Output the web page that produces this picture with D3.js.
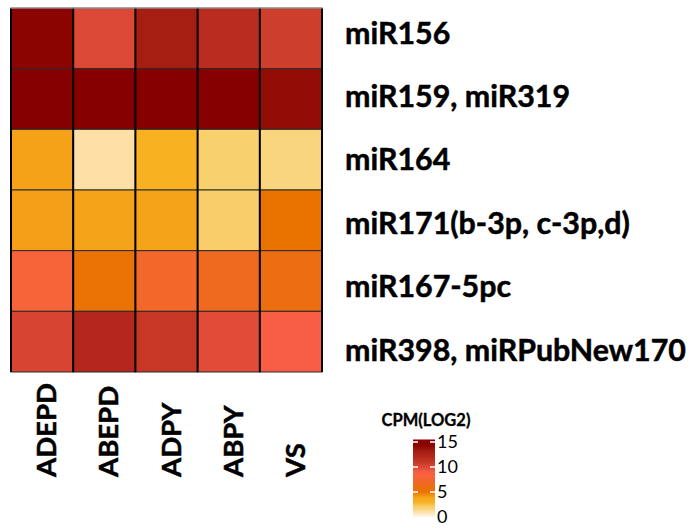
<!DOCTYPE html>
<html>
<head>
<meta charset="utf-8">
<script src="https://cdn.jsdelivr.net/npm/d3@7"></script>
<style>
  html, body { margin: 0; padding: 0; background: #fff; }
  svg { display: block; }
  text { font-family: Lato, "Open Sans", sans-serif; }
</style>
</head>
<body>
<svg id="chart" width="694" height="529"></svg>
<script>
// Samples (columns) and miRNA families (rows)
const samples = ["ADEPD", "ABEPD", "ADPY", "ABPY", "VS"];
const mirnas = [
  "miR156",
  "miR159, miR319",
  "miR164",
  "miR171(b-3p, c-3p,d)",
  "miR167-5pc",
  "miR398, miRPubNew170"
];

// Expression, CPM (log2), one array per row, in sample order
const miR156  = [14.4, 10.0, 13.0, 11.7, 10.6];
const miR159  = [14.8, 14.9, 14.9, 14.9, 14.0];
const miR164  = [4.0, 1.0, 3.0, 2.0, 1.6];
const miR171  = [4.1, 3.95, 3.9, 2.05, 5.0];
const miR167  = [8.0, 5.2, 7.2, 6.5, 5.8];
const miR398  = [10.2, 12.0, 11.0, 9.8, 9.0];
const rowValues = [miR156, miR159, miR164, miR171, miR167, miR398];

// Colour bar
const legendTitle = "CPM(LOG2)";
const legendTicks = [0, 5, 10, 15];

const cells = [];
mirnas.forEach((m, i) => samples.forEach((s, j) => cells.push({ row: m, col: s, value: rowValues[i][j] })));

const svg = d3.select("#chart");

// Heat palette: cream -> yellow -> orange -> coral -> dark red
const color = d3.scaleLinear()
  .domain([0, 1, 1.6, 2, 3, 4, 5, 6.5, 8, 9, 10, 11, 12, 13, 14, 14.6])
  .range(["#fff8ec", "#fee0a6", "#f9d57e", "#f9d06e", "#f8b120", "#f5a218", "#ea7300",
          "#ef6a1e", "#f7643a", "#f75e45", "#db4835", "#c63726", "#b5271e", "#a61e12",
          "#920c06", "#870000"])
  .clamp(true);

const x = d3.scaleBand().domain(samples).range([11, 322]);
const y = d3.scaleBand().domain(mirnas).range([8, 372]);

// Cells
svg.append("g")
  .selectAll("rect")
  .data(cells)
  .join("rect")
  .attr("x", d => x(d.col))
  .attr("y", d => y(d.row))
  .attr("width", x.bandwidth())
  .attr("height", y.bandwidth())
  .attr("fill", d => color(d.value))
  .attr("stroke", "#2a2a2a")
  .attr("stroke-width", 1);

// Heavier column separators and outer frame
const grid = svg.append("g");
grid.selectAll("line")
  .data(samples.slice(1))
  .join("line")
  .attr("x1", d => x(d)).attr("x2", d => x(d))
  .attr("y1", 8).attr("y2", 372)
  .attr("stroke", "#000").attr("stroke-width", 2);
grid.append("line")
  .attr("x1", 11).attr("x2", 11).attr("y1", 8).attr("y2", 372)
  .attr("stroke", "#000").attr("stroke-width", 2);
grid.append("line")
  .attr("x1", 322).attr("x2", 322).attr("y1", 8).attr("y2", 372)
  .attr("stroke", "#000").attr("stroke-width", 2);
grid.append("line")
  .attr("x1", 10).attr("x2", 323).attr("y1", 8).attr("y2", 8)
  .attr("stroke", "#bbb").attr("stroke-width", 1);

// Row labels on the right
const labelY = d3.scalePoint().domain(mirnas).range([33, 350]);
const rowLabels = svg.append("g")
  .selectAll("text")
  .data(mirnas)
  .join("text")
  .attr("x", 345)
  .attr("y", d => labelY(d))
  .attr("dy", "0.35em")
  .attr("font-weight", 700)
  .attr("font-size", 26)
  .attr("fill", "#000")
  .attr("stroke", "#000")
  .attr("stroke-width", 0.5)
  .text(d => d);

// size the row labels so the longest spans the right margin
const longest = d3.max(rowLabels.nodes(), n => n.getComputedTextLength());
const rowFont = 26 * 341 / longest;
rowLabels.attr("font-size", rowFont);

// Column labels, rotated, reading bottom-to-top
const colLabels = svg.append("g")
  .selectAll("text")
  .data(samples)
  .join("text")
  .attr("transform", d => `translate(${x(d) + x.bandwidth() / 2 + 14},477) rotate(-90)`)
  .attr("text-anchor", "start")
  .attr("font-weight", 700)
  .attr("font-size", 26)
  .attr("fill", "#000")
  .attr("stroke", "#000")
  .attr("stroke-width", 0.5)
  .text(d => d);
const firstLen = colLabels.node().getComputedTextLength();
colLabels.attr("font-size", 26 * 94 / firstLen);

// Colour bar legend
const legY = d3.scaleLinear().domain([0, 15]).range([517, 442]);
const barX = 413, barW = 22;
const gradId = "cpm-grad";
const grad = svg.append("defs").append("linearGradient")
  .attr("id", gradId)
  .attr("x1", 0).attr("x2", 0).attr("y1", 1).attr("y2", 0);
const stops = d3.range(0, 15.51, 0.25);
grad.selectAll("stop")
  .data(stops)
  .join("stop")
  .attr("offset", d => d / 15.5)
  .attr("stop-color", d => color(d));

const leg = svg.append("g");
leg.append("rect")
  .attr("x", barX).attr("y", legY(15.5))
  .attr("width", barW).attr("height", legY(0) - legY(15.5))
  .attr("fill", `url(#${gradId})`);

leg.selectAll("line.tl")
  .data(legendTicks.filter(t => t > 0))
  .join("line")
  .attr("class", "tl")
  .attr("x1", barX).attr("x2", barX + 5)
  .attr("y1", d => legY(d)).attr("y2", d => legY(d))
  .attr("stroke", "#fff").attr("stroke-width", 1.5);
leg.selectAll("line.tr")
  .data(legendTicks.filter(t => t > 0))
  .join("line")
  .attr("class", "tr")
  .attr("x1", barX + barW - 5).attr("x2", barX + barW)
  .attr("y1", d => legY(d)).attr("y2", d => legY(d))
  .attr("stroke", "#fff").attr("stroke-width", 1.5);

leg.selectAll("text.tick")
  .data(legendTicks)
  .join("text")
  .attr("class", "tick")
  .attr("x", barX + barW + 2)
  .attr("y", d => legY(d))
  .attr("dy", "0.36em")
  .attr("font-size", 18)
  .attr("fill", "#000")
  .text(d => d);

leg.append("text")
  .attr("x", 426)
  .attr("y", 426)
  .attr("text-anchor", "middle")
  .attr("font-weight", 700)
  .attr("font-size", 16.5)
  .attr("fill", "#000")
  .attr("stroke", "#000")
  .attr("stroke-width", 0.3)
  .text(legendTitle);
</script>
</body>
</html>
